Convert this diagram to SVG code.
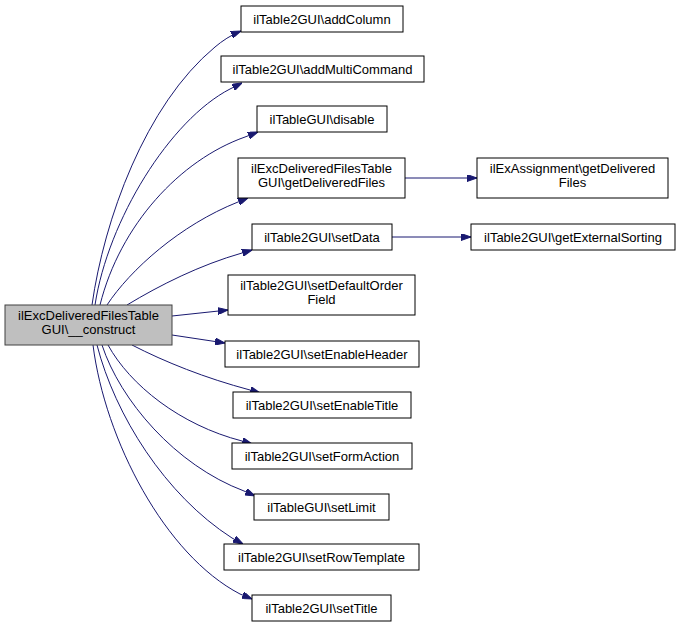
<svg xmlns="http://www.w3.org/2000/svg" width="680" height="627" viewBox="0 0 680 627">
<style>
.n rect{fill:#ffffff;stroke:#000000;stroke-width:1}
.m rect{fill:#bfbfbf;stroke:#404040;stroke-width:1}
text{font-family:"Liberation Sans",Arial,sans-serif;font-size:13px;text-anchor:middle;fill:#000000}
.e path{fill:none;stroke:#191970;stroke-width:1}
</style>
<defs>
<marker id="ah" viewBox="0 0 10 7" refX="10" refY="3.5" markerWidth="10" markerHeight="7" markerUnits="userSpaceOnUse" orient="auto">
<path d="M0,0 L10,3.5 L0,7 z" fill="#191970" stroke="#191970"/>
</marker>
</defs>
<rect width="680" height="627" fill="#ffffff"/>
<g class="e" id="edges">
<path marker-end="url(#ah)" d="M92,305 C104,220 145,105 215,47 C222,41 231,35 241,31"/>
<path marker-end="url(#ah)" d="M95,305 C108,220 170,120 230,89 L242,83"/>
<path marker-end="url(#ah)" d="M100,305 C120,225 180,160 245,137 L258,132"/>
<path marker-end="url(#ah)" d="M107,305 C130,270 180,225 238,202 L248,198"/>
<path marker-end="url(#ah)" d="M127,305 C160,285 200,265 242,253 L252,250"/>
<path marker-end="url(#ah)" d="M172,316 L228,310"/>
<path marker-end="url(#ah)" d="M172,335 L225,343"/>
<path marker-end="url(#ah)" d="M132,345 C165,362 205,378 250,390 L260,393"/>
<path marker-end="url(#ah)" d="M108,345 C130,385 180,425 242,441 L252,444"/>
<path marker-end="url(#ah)" d="M102,345 C120,400 175,465 244,491 L255,496"/>
<path marker-end="url(#ah)" d="M97,345 C115,415 165,495 232,538 L243,544"/>
<path marker-end="url(#ah)" d="M93,345 C105,440 165,555 240,594 L252,599"/>
<path marker-end="url(#ah)" d="M405,178 L477,178"/>
<path marker-end="url(#ah)" d="M392,237 L471,237"/>
</g>
<g class="m" id="node_construct"><rect x="5" y="305" width="167" height="40"/><text x="88.5" y="320">ilExcDeliveredFilesTable</text><text x="88.5" y="334">GUI\__construct</text></g>
<g class="n" id="node_addColumn"><rect x="241" y="6" width="162" height="26"/><text x="322" y="23.5">ilTable2GUI\addColumn</text></g>
<g class="n" id="node_addMultiCommand"><rect x="221" y="56" width="203" height="26"/><text x="322.5" y="73.5">ilTable2GUI\addMultiCommand</text></g>
<g class="n" id="node_disable"><rect x="257" y="106" width="130" height="26"/><text x="322" y="123.5">ilTableGUI\disable</text></g>
<g class="n" id="node_getDeliveredFiles"><rect x="238" y="158" width="167" height="40"/><text x="321.5" y="173">ilExcDeliveredFilesTable</text><text x="321.5" y="187">GUI\getDeliveredFiles</text></g>
<g class="n" id="node_exGetDeliveredFiles"><rect x="477" y="158" width="191" height="40"/><text x="572.5" y="173">ilExAssignment\getDelivered</text><text x="572.5" y="187">Files</text></g>
<g class="n" id="node_setData"><rect x="252" y="224" width="140" height="26"/><text x="322" y="241.5">ilTable2GUI\setData</text></g>
<g class="n" id="node_getExternalSorting"><rect x="471" y="224" width="204" height="26"/><text x="573" y="241.5">ilTable2GUI\getExternalSorting</text></g>
<g class="n" id="node_setDefaultOrderField"><rect x="228" y="275" width="187" height="40"/><text x="321.5" y="290">ilTable2GUI\setDefaultOrder</text><text x="321.5" y="304">Field</text></g>
<g class="n" id="node_setEnableHeader"><rect x="225" y="341" width="194" height="26"/><text x="322" y="358.5">ilTable2GUI\setEnableHeader</text></g>
<g class="n" id="node_setEnableTitle"><rect x="233" y="392" width="178" height="26"/><text x="322" y="409.5">ilTable2GUI\setEnableTitle</text></g>
<g class="n" id="node_setFormAction"><rect x="232" y="443" width="180" height="26"/><text x="322" y="460.5">ilTable2GUI\setFormAction</text></g>
<g class="n" id="node_setLimit"><rect x="254" y="494" width="135" height="26"/><text x="321.5" y="511.5">ilTableGUI\setLimit</text></g>
<g class="n" id="node_setRowTemplate"><rect x="224" y="544" width="195" height="26"/><text x="321.5" y="561.5">ilTable2GUI\setRowTemplate</text></g>
<g class="n" id="node_setTitle"><rect x="252" y="595" width="139" height="26"/><text x="321.5" y="612.5">ilTable2GUI\setTitle</text></g>
</svg>
